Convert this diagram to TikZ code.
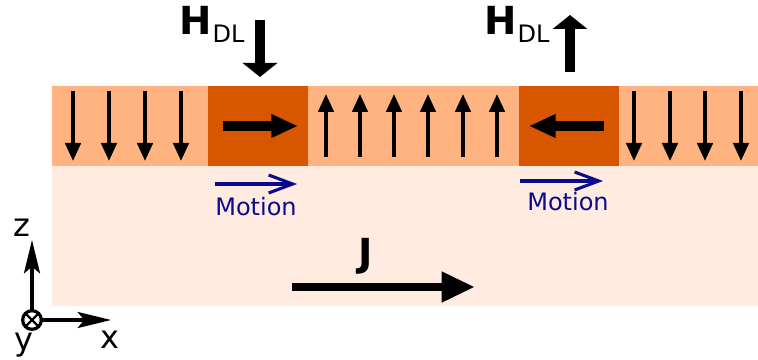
\documentclass[tikz,border=0pt]{standalone}
\usepackage{fontspec}
\setmainfont{DejaVu Sans}
\usetikzlibrary{arrows.meta}
\definecolor{filmtop}{HTML}{FFB380}
\definecolor{filmbot}{HTML}{FFEBDF}
\definecolor{wallor}{HTML}{D85600}
\definecolor{motblue}{HTML}{0A0A8C}
\begin{document}
\begin{tikzpicture}[x=0.75pt,y=-0.75pt,
  spin/.style={line width=2.7pt,-{Triangle[length=13.5pt,width=11.5pt]}},
  wallspin/.style={line width=6.8pt,-{Triangle[length=20pt,width=16.5pt]}},
  field/.style={line width=7.8pt,-{Triangle[length=10.5pt,width=25.5pt]}},
  motion/.style={motblue,line width=2.3pt,-{Straight Barb[length=18pt,width=13.5pt]}},
  axis/.style={line width=2.6pt,-{Stealth[length=25pt,width=12pt,inset=5pt]}},
  lbl/.style={inner sep=0pt,anchor=base},
  bigfont/.style={font=\fontsize{29}{31}\selectfont\bfseries},
  subfont/.style={font=\fontsize{18}{20}\selectfont},
  axfont/.style={font=\fontsize{24}{26}\selectfont}]
  \useasboundingbox (0,0) rectangle (758,360);
  % film layers
  \fill[filmbot] (52,166) rectangle (758,306);
  \fill[filmtop] (52,86) rectangle (758,166);
  \fill[wallor] (208,86) rectangle (308,166);
  \fill[wallor] (519,86) rectangle (619,166);
  % magnetisation
  \foreach \x in {73,109,145,181,634,670,705,741}
    \draw[spin] (\x,91) -- (\x,161);
  \foreach \x in {326,360,394,428,463,497}
    \draw[spin] (\x,157) -- (\x,94);
  \draw[wallspin] (223,126) -- (298,126);
  \draw[wallspin] (604,126) -- (529,126);
  % damping-like fields
  \draw[field] (260,20) -- (260,77);
  \draw[field] (570,72) -- (570,15);
  \node[lbl,anchor=base west,bigfont] (hL) at (179.5,35) {H};
  \node[lbl,anchor=base west,subfont] (dlL) at ([yshift=-6pt]hL.base east) {DL};
  \node[lbl,anchor=base west,bigfont] (hR) at (484.5,35) {H};
  \node[lbl,anchor=base west,subfont] (dlR) at ([yshift=-6pt]hR.base east) {DL};
  % wall motion
  \draw[motion] (215,184) -- (297,184);
  \node[lbl,subfont,text=motblue] (mvL) at (256,215) {Motion};
  \draw[motion] (520,181) -- (603,181);
  \node[lbl,subfont,text=motblue] (mvR) at (568,210) {Motion};
  % current
  \draw[line width=6.5pt,-{Triangle[length=25pt,width=21.5pt]}] (292,287) -- (475,287);
  \node[lbl,bigfont] (jc) at (366,267) {J};
  % axes
  \node[circle,draw,line width=2.4pt,minimum size=14pt,inner sep=0pt,outer sep=0pt] (ydir) at (32,320) {};
  \draw[line width=1.8pt] (ydir.north west) -- (ydir.south east)
    (ydir.north east) -- (ydir.south west);
  \coordinate (ztip) at (32,240);
  \coordinate (xtip) at (111,320);
  \draw[axis] (ydir.north) -- (ztip);
  \draw[axis] (ydir.east) -- (xtip);
  \node[lbl,axfont] (zl) at (21.5,237) {z};
  \node[lbl,axfont] (xl) at (110,348) {x};
  \node[lbl,axfont] (yl) at (23.5,350) {y};
\end{tikzpicture}
\end{document}
